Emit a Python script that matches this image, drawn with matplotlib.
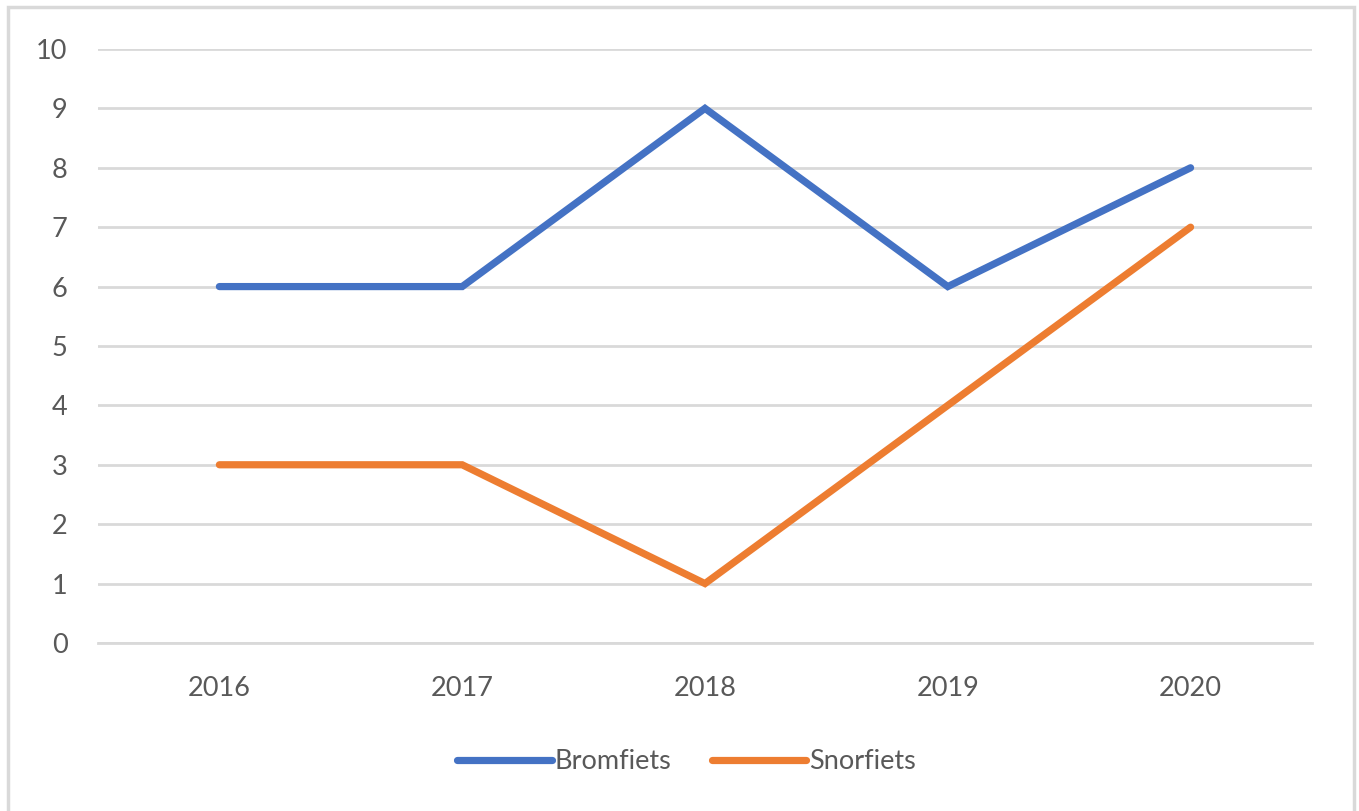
import matplotlib.pyplot as plt
from matplotlib.patches import Rectangle

YEARS     = ["2016", "2017", "2018", "2019", "2020"]
BROMFIETS = [6, 6, 9, 6, 8]
SNORFIETS = [3, 3, 1, 4, 7]
Y_TICKS   = list(range(0, 11))

BLUE   = "#4472C4"
ORANGE = "#ED7D31"
GRID   = "#D9D9D9"
TEXT   = "#595959"

plt.rcParams["font.family"] = ["Lato", "DejaVu Sans"]

fig = plt.figure(figsize=(13.59, 8.11), dpi=100)
ax = fig.add_axes([0.0721, 0.2072, 0.8933, 0.7324])

x = range(len(YEARS))
ax.plot(x, BROMFIETS, color=BLUE, lw=5.2, label="Bromfiets",
        solid_capstyle="round", solid_joinstyle="miter", zorder=3)
ax.plot(x, SNORFIETS, color=ORANGE, lw=5.2, label="Snorfiets",
        solid_capstyle="round", solid_joinstyle="miter", zorder=3)

ax.set_xlim(-0.5, len(YEARS) - 0.5)
ax.set_ylim(0, 10)
ax.set_yticks(Y_TICKS)
ax.set_xticks(list(x))
ax.set_xticklabels(YEARS)
ax.yaxis.grid(True, color=GRID, lw=2)
ax.set_axisbelow(True)
for s in ax.spines.values():
    s.set_visible(False)
ax.spines["bottom"].set_visible(True)
ax.spines["bottom"].set_color(GRID)
ax.spines["bottom"].set_linewidth(2)
ax.tick_params(length=0, labelsize=19.5, labelcolor=TEXT)
ax.tick_params(axis="y", pad=22)
ax.tick_params(axis="x", pad=24)

leg = fig.legend(loc="center", bbox_to_anchor=(0.505, 0.061), ncol=2,
                 frameon=False, fontsize=19.5, handlelength=3.5,
                 handletextpad=0.1, columnspacing=1.5)
for t in leg.get_texts():
    t.set_color(TEXT)

# chart border
fig.patches.append(Rectangle((8 / 1359, -0.01), 1346 / 1359, 1 - 7 / 811 + 0.01,
                             transform=fig.transFigure, fill=False,
                             edgecolor=GRID, lw=2.5))

fig.savefig("out.png", dpi=100)
